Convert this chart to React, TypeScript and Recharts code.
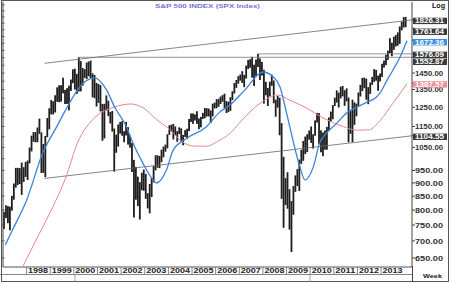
import { ComposedChart, Bar, Line, XAxis, YAxis, ReferenceLine } from 'recharts';

// monthly high / low of the weekly bars, Jan 1997 .. Jan 2014
const firstYear = 1997;

const highs = [
  794, 817, 814, 812, 851, 898, 961, 961, 960, 983, 964, 986,
  992, 1050, 1105, 1123, 1122, 1145, 1190, 1121, 1066, 1104, 1193, 1245,
  1290, 1283, 1317, 1363, 1375, 1376, 1421, 1348, 1358, 1373, 1410, 1474,
  1478, 1445, 1553, 1528, 1482, 1475, 1518, 1525, 1531, 1448, 1438, 1389,
  1383, 1376, 1268, 1269, 1316, 1286, 1225, 1230, 1140, 1110, 1160, 1173,
  1177, 1127, 1173, 1147, 1107, 1071, 995, 965, 925, 903, 941, 954,
  936, 861, 896, 919, 968, 1015, 1015, 1012, 1040, 1054, 1063, 1112,
  1156, 1159, 1163, 1150, 1127, 1146, 1141, 1109, 1132, 1139, 1188, 1217,
  1217, 1212, 1229, 1191, 1199, 1220, 1246, 1245, 1243, 1233, 1270, 1276,
  1295, 1297, 1310, 1318, 1326, 1284, 1280, 1306, 1340, 1389, 1407, 1431,
  1441, 1462, 1439, 1498, 1535, 1540, 1556, 1504, 1538, 1576, 1545, 1523,
  1471, 1396, 1359, 1397, 1440, 1404, 1292, 1313, 1303, 1167, 1008, 919,
  943, 876, 832, 888, 930, 956, 996, 1039, 1080, 1101, 1112, 1130,
  1150, 1112, 1181, 1220, 1219, 1131, 1120, 1130, 1148, 1196, 1227, 1262,
  1303, 1345, 1332, 1367, 1371, 1346, 1357, 1304, 1230, 1292, 1277, 1270,
  1333, 1378, 1420, 1422, 1415, 1364, 1392, 1426, 1475, 1470, 1434, 1448,
  1510, 1531, 1570, 1598, 1687, 1654, 1698, 1710, 1730, 1775, 1813, 1849,
  1850,
];

const lows = [
  737, 773, 756, 733, 798, 837, 882, 892, 896, 855, 904, 924,
  912, 980, 1032, 1076, 1074, 1074, 1114, 940, 940, 923, 1098, 1136,
  1212, 1212, 1222, 1280, 1278, 1281, 1328, 1268, 1268, 1233, 1342, 1388,
  1350, 1325, 1339, 1339, 1373, 1420, 1413, 1430, 1419, 1305, 1300, 1254,
  1274, 1228, 1081, 1092, 1233, 1203, 1165, 1125, 945, 1026, 1054, 1115,
  1105, 1074, 1106, 1063, 1049, 944, 775, 837, 814, 768, 872, 870,
  840, 806, 789, 847, 902, 951, 962, 960, 985, 1006, 1031, 1046,
  1109, 1125, 1087, 1107, 1076, 1113, 1078, 1060, 1099, 1091, 1127, 1173,
  1163, 1180, 1163, 1137, 1146, 1188, 1192, 1201, 1201, 1168, 1202, 1244,
  1245, 1253, 1268, 1280, 1245, 1219, 1224, 1231, 1290, 1327, 1360, 1385,
  1403, 1389, 1364, 1416, 1476, 1484, 1422, 1371, 1433, 1489, 1407, 1435,
  1270, 1317, 1257, 1311, 1372, 1272, 1200, 1248, 1107, 840, 741, 818,
  805, 735, 667, 784, 866, 888, 869, 978, 991, 1020, 1029, 1086,
  1071, 1045, 1105, 1170, 1066, 1028, 1011, 1040, 1040, 1131, 1174, 1187,
  1257, 1276, 1249, 1299, 1311, 1258, 1282, 1074, 1114, 1075, 1158, 1202,
  1258, 1310, 1341, 1358, 1292, 1267, 1325, 1378, 1396, 1403, 1343, 1398,
  1426, 1485, 1501, 1536, 1581, 1560, 1604, 1627, 1633, 1646, 1746, 1767,
  1770,
];

// blue moving average
const blueT = [1997.1, 1997.4, 1998.0, 1998.68, 1999.27, 1999.8, 2000.25, 2000.88, 2001.38, 2001.73,
  2002.23, 2002.5, 2002.92, 2003.35, 2003.5, 2003.93, 2004.2, 2004.77, 2005.6, 2006.17, 2006.6,
  2007.24, 2008.0, 2008.43, 2008.72, 2009.0, 2009.27, 2009.57, 2009.78, 2010.13, 2010.4, 2010.7,
  2011.13, 2011.55, 2011.97, 2012.4, 2012.8, 2012.96, 2013.25, 2013.5, 2013.8, 2014.1];
const blueV = [688, 734, 835, 1025, 1148, 1270, 1366, 1420, 1348, 1250,
  1148, 1070, 981, 912, 900, 955, 1038, 1092, 1148, 1224, 1262,
  1348, 1457, 1427, 1367, 1220, 1084, 964, 912, 964, 1070, 1118,
  1167, 1220, 1250, 1278, 1306, 1330, 1405, 1468, 1553, 1668];

// red moving average
const pinkT = [1997.85, 1998.55, 1999.1, 1999.65, 2000.15, 2000.88, 2001.7, 2002.4, 2002.96, 2003.5,
  2004.06, 2004.6, 2005.1, 2005.6, 2006.17, 2006.6, 2007.0, 2007.88, 2008.63, 2009.14, 2009.86,
  2010.5, 2011.4, 2011.95, 2012.5, 2012.96, 2013.5, 2014.1];
const pinkV = [628, 724, 810, 920, 1070, 1195, 1250, 1268, 1245, 1185,
  1135, 1075, 1056, 1056, 1084, 1115, 1167, 1272, 1318, 1289, 1245,
  1197, 1150, 1132, 1134, 1180, 1272, 1385];

const yearTicks = [1998, 1999, 2000, 2001, 2002, 2003, 2004, 2005, 2006, 2007, 2008, 2009, 2010, 2011, 2012, 2013];
const priceTicks = [650, 700, 750, 800, 850, 900, 950, 1050, 1150, 1250, 1350, 1450];
const markerValues = [1104.55, 1387.57, 1552.87, 1576.09, 1672.36, 1761.64, 1826.31];
const minorTicks = [650, 700, 750, 800, 850, 900, 950, 1000, 1050, 1100, 1150, 1200, 1250, 1300, 1350,
  1400, 1450, 1500, 1550, 1600, 1650, 1700, 1750, 1800, 1850, 1900, 1950];

// trend channel and the two tops
const trendStart = 1998.76;
const upperTrend = [1513, 1826.31];
const lowerTrend = [918, 1104.55];
const top2000 = { t: 2000.2, v: 1552.87 };
const top2007 = { t: 2007.78, v: 1576.09 };

const xDomain = [1997, 2014.31];
const yDomain = [625, 1974];

const bars = highs.map((h, i) => ({
  t: firstYear + (i + 0.5) / 12,
  hl: [lows[i], h],
}));
const blue = blueT.map((t, i) => ({ t, v: blueV[i] }));
const pink = pinkT.map((t, i) => ({ t, v: pinkV[i] }));

const font = 'Liberation Sans, Arial, sans-serif';

const markerStyle: Record<string, { bg: string; dy: number }> = {
  '1104.55': { bg: '#3a3a3a', dy: 1 },
  '1387.57': { bg: '#ef8f98', dy: 1.2 },
  '1552.87': { bg: '#3a3a3a', dy: 4.5 },
  '1576.09': { bg: '#3a3a3a', dy: 1 },
  '1672.36': { bg: '#3d8ee4', dy: 2 },
  '1761.64': { bg: '#3a3a3a', dy: 3.5 },
  '1826.31': { bg: '#3a3a3a', dy: 1 },
};

function PriceTick(props: any) {
  const { x, y, payload } = props;
  const key = payload.value.toFixed(2);
  const m = markerStyle[key];
  if (m) {
    const cy = y + m.dy;
    return (
      <g>
        <rect x={x - 2} y={cy - 3.2} width={34} height={6.4} fill={m.bg} />
        <text x={x} y={cy + 2.4} fontSize={6.8} fontFamily={font} fontWeight="bold" fill="#fff"
          textLength={29} lengthAdjust="spacingAndGlyphs">{key}</text>
      </g>
    );
  }
  return (
    <text x={x} y={y + 2.8} fontSize={6.8} fontFamily={font} fontWeight="bold" fill="#333"
      textLength={28} lengthAdjust="spacingAndGlyphs">{key}</text>
  );
}

function YearTick(props: any) {
  const { x, y, payload } = props;
  return (
    <g>
      <line x1={x} x2={x} y1={y} y2={y + 7.5} stroke="#666" strokeWidth={0.8} />
      <text x={x + 1.5} y={y + 6.3} fontSize={6.3} fontFamily={font} fontWeight="bold" fill="#222"
        textLength={20} lengthAdjust="spacingAndGlyphs">{payload.value}</text>
    </g>
  );
}

function MinorTick(props: any) {
  const { y } = props;
  return <line x1={2} x2={4.5} y1={y} y2={y} stroke="#444" strokeWidth={0.8} />;
}

// one high-low stroke per bar, fixed width whatever band size the axis gives
function HLBar(props: any) {
  const { x, y, width, height } = props;
  if (height == null || isNaN(height)) return null;
  const cx = x + width / 2;
  return <rect x={cx - 0.9} y={y} width={1.8} height={Math.max(height, 1)} fill="#1e1e1e" />;
}

export default function App() {
  return (
    <div style={{ position: 'absolute', left: 0, top: 0, width: 452, height: 283, background: '#fff' }}>
      <ComposedChart width={452} height={283} data={bars} margin={{ top: 2, right: 0, bottom: 0, left: 0 }}>
        <XAxis type="number" dataKey="t" domain={xDomain} allowDataOverflow ticks={yearTicks} interval={0}
          tickSize={0} tickMargin={0} tickLine={false} height={16} axisLine={{ stroke: '#555' }}
          tick={<YearTick />} />
        <YAxis yAxisId="l" orientation="left" scale="log" domain={yDomain} allowDataOverflow width={3}
          ticks={minorTicks} interval={0} tickLine={false} tickSize={0} tickMargin={0}
          axisLine={{ stroke: '#444' }} tick={<MinorTick />} />
        <YAxis yAxisId="p" orientation="right" scale="log" domain={yDomain} allowDataOverflow width={40}
          ticks={[...priceTicks, ...markerValues]} interval={0} tickSize={3} tickMargin={0}
          axisLine={{ stroke: '#444' }} tickLine={{ stroke: '#444' }} tick={<PriceTick />} />

        <ReferenceLine yAxisId="p" segment={[{ x: trendStart, y: upperTrend[0] }, { x: xDomain[1], y: upperTrend[1] }]}
          stroke="#666" strokeWidth={0.8} />
        <ReferenceLine yAxisId="p" segment={[{ x: trendStart, y: lowerTrend[0] }, { x: xDomain[1], y: lowerTrend[1] }]}
          stroke="#666" strokeWidth={0.8} />
        <ReferenceLine yAxisId="p" segment={[{ x: top2000.t, y: top2000.v }, { x: xDomain[1], y: top2000.v }]}
          stroke="#777" strokeWidth={0.8} />
        <ReferenceLine yAxisId="p" segment={[{ x: top2007.t, y: top2007.v }, { x: xDomain[1], y: top2007.v }]}
          stroke="#777" strokeWidth={0.8} />

        <Bar yAxisId="p" dataKey="hl" fill="#1e1e1e" barSize={2} shape={<HLBar />} isAnimationActive={false} />
        <Line yAxisId="p" data={pink} dataKey="v" type="monotone" stroke="#e58790" strokeWidth={1}
          dot={false} isAnimationActive={false} />
        <Line yAxisId="p" data={blue} dataKey="v" type="monotone" stroke="#3b84d8" strokeWidth={1.3}
          dot={false} isAnimationActive={false} />
      </ComposedChart>

      <svg width={452} height={283} style={{ position: 'absolute', left: 0, top: 0, pointerEvents: 'none' }}>
        <rect x={1.5} y={0.5} width={447} height={281} fill="none" stroke="#555" strokeWidth={1} />
        <line x1={0} x2={412} y1={274.5} y2={274.5} stroke="#666" strokeWidth={0.8} />
        <line x1={412.5} x2={412.5} y1={266} y2={282} stroke="#444" strokeWidth={1} />
        <line x1={75} x2={75} y1={274.5} y2={282} stroke="#888" strokeWidth={0.8} />
        <line x1={310} x2={310} y1={274.5} y2={282} stroke="#888" strokeWidth={0.8} />
        <text x={155} y={7.5} fontSize={6.2} fontFamily={font} fontWeight="bold" fill="#7373dd"
          textLength={105} lengthAdjust="spacingAndGlyphs">S&amp;P  500  INDEX  (SPX Index)</text>
        <text x={432} y={8} fontSize={7.5} fontFamily={font} fontWeight="bold" fill="#111"
          textLength={13} lengthAdjust="spacingAndGlyphs">Log</text>
        <text x={423} y={277.5} fontSize={6} fontFamily={font} fontWeight="bold" fill="#222"
          textLength={19} lengthAdjust="spacingAndGlyphs">Week</text>
      </svg>
    </div>
  );
}
